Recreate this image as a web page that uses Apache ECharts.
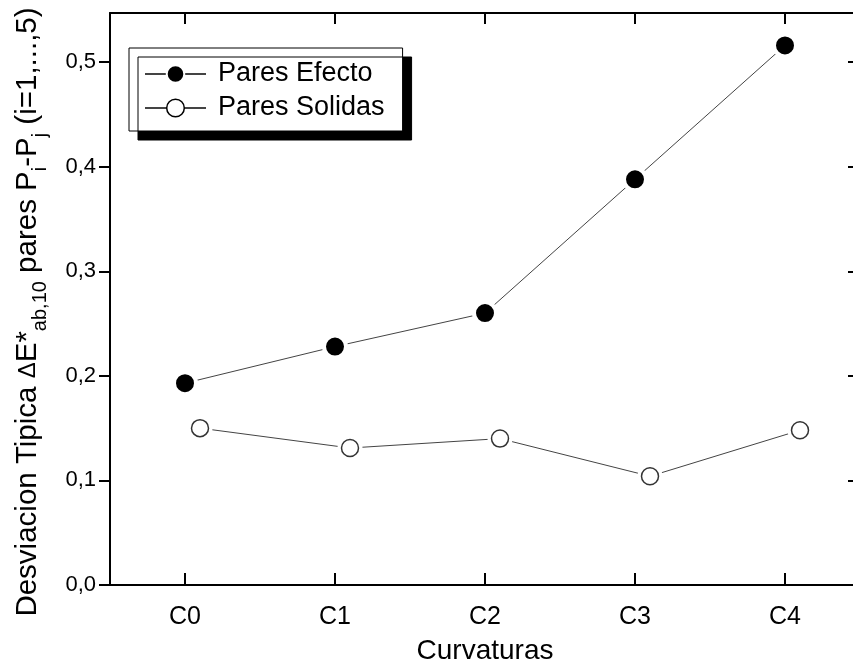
<!DOCTYPE html>
<html><head><meta charset="utf-8">
<script src="https://cdn.jsdelivr.net/npm/echarts@6/dist/echarts.min.js"></script>
<style>html,body{margin:0;padding:0;background:#fff}#c{width:853px;height:668px}</style>
</head><body><div id="c"></div>
<script>
const categories = ['C0', 'C1', 'C2', 'C3', 'C4'];
const xEfecto = [0, 1, 2, 3, 4];
const efecto = [0.193, 0.228, 0.260, 0.388, 0.516];
const xSolidas = [0.1, 1.1, 2.1, 3.1, 4.1];
const solidas = [0.150, 0.131, 0.140, 0.104, 0.148];
const yTicks = [0, 0.1, 0.2, 0.3, 0.4, 0.5];
const xTicks = [0, 1, 2, 3, 4];
const seriesNames = ['Pares Efecto', 'Pares Solidas'];

const FONT = '"Liberation Sans", Arial, sans-serif';
const pairs = (xs, ys) => xs.map((x, i) => [x, ys[i]]);
const axisLine = { show: true, onZero: false, lineStyle: { color: '#000', width: 2 } };
const tickStyle = { color: '#000', width: 2 };

const chart = echarts.init(document.getElementById('c'), null, { renderer: 'canvas' });
chart.setOption({
  animation: false,
  backgroundColor: '#fff',
  grid: { left: 110, top: 13, width: 750, height: 572, containLabel: false, outerBoundsMode: 'none' },
  legend: {
    orient: 'vertical', left: 129, top: 48,
    itemWidth: 61, itemHeight: 22, itemGap: 4,
    padding: [11, 18, 8, 15],
    backgroundColor: '#fff', borderColor: '#000', borderWidth: 1, borderRadius: 0,
    shadowColor: '#000', shadowBlur: 0, shadowOffsetX: 9, shadowOffsetY: 9,
    selectedMode: false,
    textStyle: { fontSize: 27, fontFamily: FONT, color: '#000', lineHeight: 30, padding: [0, 0, 0, 7] },
    data: [
      { name: seriesNames[0], itemStyle: { borderWidth: 2 } },
      { name: seriesNames[1], itemStyle: { color: '#fff', borderColor: '#000', borderWidth: 1.5 } }
    ]
  },
  xAxis: [
    {
      type: 'value', position: 'bottom', min: -0.5, max: 4.5,
      axisLine: axisLine,
      axisTick: { show: true, inside: true, length: 12, customValues: xTicks, lineStyle: tickStyle },
      axisLabel: { customValues: xTicks, formatter: v => categories[Math.round(v)], margin: 20, fontSize: 25, color: '#000', fontFamily: FONT },
      splitLine: { show: false },
      name: 'Curvaturas', nameLocation: 'middle', nameGap: 52,
      nameTextStyle: { fontSize: 28, color: '#000', fontFamily: FONT }
    },
    {
      type: 'value', position: 'top', min: -0.5, max: 4.5,
      axisLine: axisLine,
      axisTick: { show: true, inside: true, length: 11, customValues: xTicks, lineStyle: tickStyle },
      axisLabel: { show: false }, splitLine: { show: false }
    }
  ],
  yAxis: [
    {
      type: 'value', position: 'left', min: 0, max: 0.547,
      axisLine: axisLine,
      axisTick: { show: true, inside: false, length: 11, customValues: yTicks, lineStyle: tickStyle },
      axisLabel: { customValues: yTicks, formatter: v => v.toFixed(1).replace('.', ','), margin: 14, fontSize: 22, color: '#000', fontFamily: FONT },
      splitLine: { show: false },
      name: '{m|Desviacion Tipica }{d|\u0394}{m|E*}{s|ab,10}{m| pares P}{s|i}{m|-P}{s|j}{m| (i=1,...,5)}{e|}',
      nameLocation: 'middle', nameGap: 65, nameRotate: 90,
      nameTextStyle: {
        color: '#000', fontFamily: FONT, fontSize: 29.5,
        rich: {
          m: { fontSize: 29.5, fontFamily: FONT, color: '#000', lineHeight: 34 },
          d: { fontSize: 24, fontFamily: FONT, color: '#000', lineHeight: 34 },
          s: { fontSize: 20, fontFamily: FONT, color: '#000', lineHeight: 34, padding: [24, 0, 0, 0] },
          e: { width: 26, lineHeight: 34 }
        }
      }
    },
    {
      type: 'value', position: 'right', min: 0, max: 0.547,
      axisLine: axisLine,
      axisTick: { show: true, inside: true, length: 12, customValues: yTicks, lineStyle: tickStyle },
      axisLabel: { show: false }, splitLine: { show: false }
    }
  ],
  series: [
    {
      name: seriesNames[0], type: 'line', data: pairs(xEfecto, efecto),
      symbol: 'circle', symbolSize: 22,
      itemStyle: { color: '#000', borderColor: '#fff', borderWidth: 4 },
      lineStyle: { color: '#444', width: 1 }, z: 2
    },
    {
      name: seriesNames[1], type: 'line', data: pairs(xSolidas, solidas),
      symbol: 'circle', symbolSize: 25,
      itemStyle: { color: '#fff', borderColor: '#fff', borderWidth: 0 },
      lineStyle: { color: '#444', width: 1 }, z: 2
    },
    {
      name: 'marcadores', type: 'scatter', data: pairs(xSolidas, solidas),
      symbol: 'circle', symbolSize: 17,
      itemStyle: { color: '#fff', borderColor: '#000', borderWidth: 1.5 }, z: 4
    }
  ]
});
</script></body></html>
